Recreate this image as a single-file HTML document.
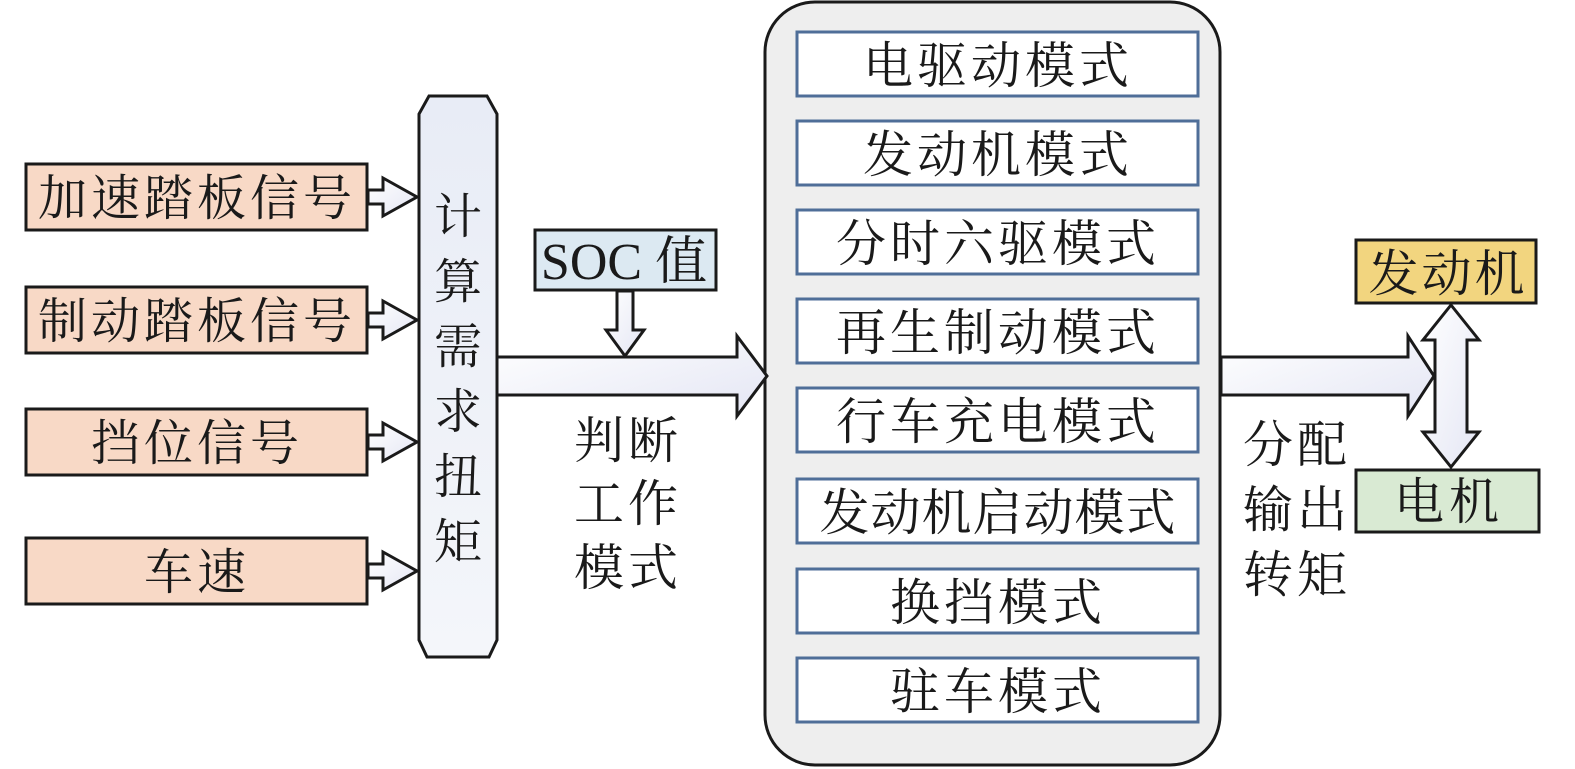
<!DOCTYPE html>
<html><head><meta charset="utf-8"><style>
html,body{margin:0;padding:0;background:#fff;}
svg{display:block;}
text{font-family:"Liberation Serif","Noto Serif CJK SC",serif;fill:#1a1a1a;}
</style></head><body>
<svg width="1575" height="769" viewBox="0 0 1575 769" xmlns="http://www.w3.org/2000/svg">
<defs>
<linearGradient id="g" x1="0" y1="0" x2="1" y2="1">
<stop offset="0" stop-color="#ffffff"/><stop offset="1" stop-color="#e4e6f4"/>
</linearGradient>
<linearGradient id="gv" x1="0" y1="0" x2="0" y2="1">
<stop offset="0" stop-color="#e8ecf6"/><stop offset="1" stop-color="#f4f6fa"/>
</linearGradient>
</defs>

<g stroke="#1a1a1a" stroke-width="3" fill="#f8d9c6">
<rect x="26" y="164" width="341" height="66"/>
<rect x="26" y="287" width="341" height="66"/>
<rect x="26" y="409" width="341" height="66"/>
<rect x="26" y="538" width="341" height="66"/>
</g>
<g font-size="49" text-anchor="middle" letter-spacing="4">
<text x="197" y="215">加速踏板信号</text>
<text x="197" y="338">制动踏板信号</text>
<text x="197" y="460">挡位信号</text>
<text x="197" y="589">车速</text>
</g>

<g stroke="#1a1a1a" stroke-width="3" fill="url(#g)">
<path d="M368 190 H383 V178 L417 197 L383 216 V204 H368 Z"/>
<path d="M368 313 H383 V301 L417 320 L383 339 V327 H368 Z"/>
<path d="M368 435 H383 V423 L417 442 L383 461 V449 H368 Z"/>
<path d="M368 564 H383 V552 L417 571 L383 590 V578 H368 Z"/>
</g>

<path d="M429 96 H487 L497 114 V640 L489 657 H427 L419 640 V114 Z" fill="url(#gv)" stroke="#1a1a1a" stroke-width="3"/>
<g font-size="48" text-anchor="middle">
<text x="458" y="233">计</text>
<text x="458" y="298">算</text>
<text x="458" y="363">需</text>
<text x="458" y="428">求</text>
<text x="458" y="493">扭</text>
<text x="458" y="558">矩</text>
</g>

<rect x="765" y="2" width="455" height="763" rx="50" ry="50" fill="#eeeeee" stroke="#1a1a1a" stroke-width="3"/>

<path d="M497 357 H737 V336 L767 376 L737 416 V395 H497 Z" fill="url(#g)" stroke="#1a1a1a" stroke-width="3"/>

<rect x="535" y="230" width="181" height="60" fill="#dce9f2" stroke="#1a1a1a" stroke-width="3"/>
<text x="624" y="279" font-size="52" text-anchor="middle">SOC 值</text>
<path d="M617 291 H633 V330 H644 L625 356 L606 330 H617 Z" fill="url(#g)" stroke="#1a1a1a" stroke-width="3"/>

<g font-size="50" text-anchor="middle" letter-spacing="4">
<text x="628" y="458">判断</text>
<text x="628" y="521">工作</text>
<text x="628" y="585">模式</text>
</g>

<g stroke="#4f6e98" stroke-width="3" fill="#ffffff">
<rect x="797" y="32" width="401" height="64"/>
<rect x="797" y="121" width="401" height="64"/>
<rect x="797" y="210" width="401" height="64"/>
<rect x="797" y="299" width="401" height="64"/>
<rect x="797" y="388" width="401" height="64"/>
<rect x="797" y="479" width="401" height="64"/>
<rect x="797" y="569" width="401" height="64"/>
<rect x="797" y="658" width="401" height="64"/>
</g>
<g font-size="50" text-anchor="middle" letter-spacing="4">
<text x="998" y="83">电驱动模式</text>
<text x="998" y="172">发动机模式</text>
<text x="998" y="261">分时六驱模式</text>
<text x="998" y="350">再生制动模式</text>
<text x="998" y="439">行车充电模式</text>
<text x="998" y="530" letter-spacing="1">发动机启动模式</text>
<text x="998" y="620">换挡模式</text>
<text x="998" y="709">驻车模式</text>
</g>

<path d="M1221 357 H1408 V336 L1434 376 L1408 416 V395 H1221 Z" fill="url(#g)" stroke="#1a1a1a" stroke-width="3"/>

<rect x="1356" y="240" width="180" height="63" fill="#f2d57f" stroke="#1a1a1a" stroke-width="3"/>
<text x="1448" y="291" font-size="50" text-anchor="middle" letter-spacing="3">发动机</text>
<rect x="1356" y="470" width="183" height="62" fill="#d9ead3" stroke="#1a1a1a" stroke-width="3"/>
<text x="1449" y="519" font-size="50" text-anchor="middle" letter-spacing="5">电机</text>

<path d="M1451 305 L1479 340 H1467 V432 H1479 L1451 467 L1423 432 H1435 V340 H1423 Z" fill="url(#g)" stroke="#1a1a1a" stroke-width="3"/>

<g font-size="50" text-anchor="middle" letter-spacing="4">
<text x="1297" y="462">分配</text>
<text x="1297" y="527">输出</text>
<text x="1297" y="592">转矩</text>
</g>
</svg>
</body></html>
